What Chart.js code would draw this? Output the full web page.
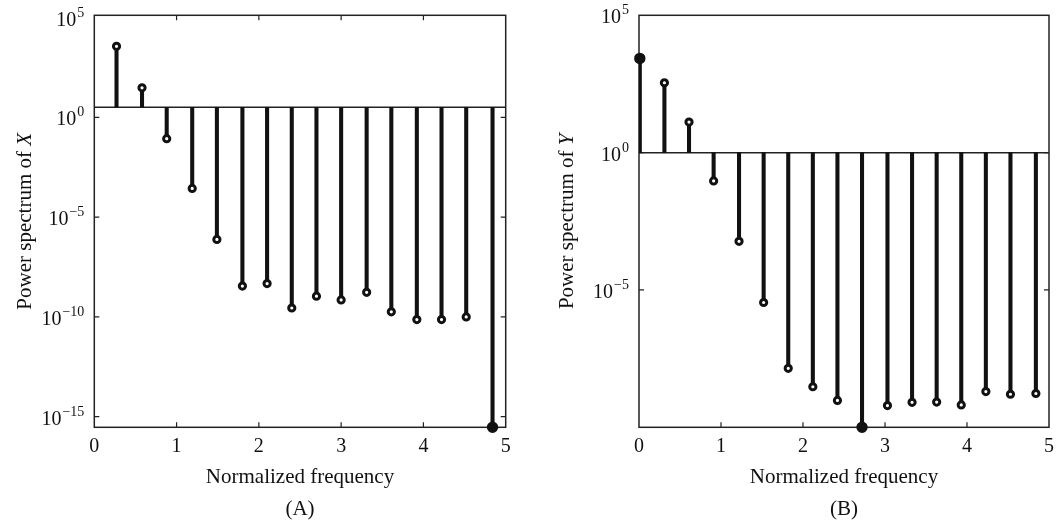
<!DOCTYPE html>
<html>
<head>
<meta charset="utf-8">
<title>Power spectra</title>
<script src="https://cdn.jsdelivr.net/npm/chart.js@4.4.1/dist/chart.umd.min.js"></script>
<style>
    html, body { margin: 0; padding: 0; background: #fff; }
    .panel { position: absolute; top: 0; height: 529px; }
    #panelA { left: 0; width: 530px; }
    #panelB { left: 540px; width: 521px; }
</style>
</head>
<body>
<div class="panel" id="panelA"><canvas id="chartA"></canvas></div>
<div class="panel" id="panelB"><canvas id="chartB"></canvas></div>
<script>
// (A) power spectrum of X
const freqA = [0.27, 0.58, 0.88, 1.19, 1.49, 1.80, 2.10, 2.40, 2.70, 3.00, 3.31, 3.61, 3.92, 4.22, 4.52, 4.84];
const powerA = [3.6e3, 30, 8.5e-2, 2.75e-4, 7.6e-7, 3.5e-9, 4.7e-9, 2.8e-10, 1.1e-9, 7.1e-10, 1.7e-9, 1.8e-10, 7.4e-11, 7.4e-11, 1.0e-10, 2.95e-16];
const filledA = [15];
const baseA = 3.2;
const rangeA = [2.95e-16, 1.29e5];
const decadesA = [5, 0, -5, -10, -15];

// (B) power spectrum of Y
const freqB = [0.01, 0.31, 0.61, 0.91, 1.22, 1.52, 1.82, 2.12, 2.42, 2.72, 3.03, 3.33, 3.63, 3.93, 4.23, 4.53, 4.84];
const powerB = [2.7e3, 3.5e2, 13, 9.3e-2, 5.9e-4, 3.5e-6, 1.4e-8, 3.0e-9, 9.5e-10, 1.0e-10, 6.2e-10, 8.1e-10, 8.3e-10, 6.5e-10, 2.0e-9, 1.6e-9, 1.7e-9];
const filledB = [0, 9];
const baseB = 1;
const rangeB = [1e-10, 1e5];
const decadesB = [5, 0, -5];

const xTicks = [0, 1, 2, 3, 4, 5];
const xTitle = "Normalized frequency";

const SERIF = '"Liberation Serif", "DejaVu Serif", serif';
const INK = "#111";

// frame, inward tick marks, superscript tick labels and titles
const axisDecor = {
    id: "axisDecor",
    beforeDatasetsDraw(chart, args, o) {
        const { ctx, chartArea: a, scales: { x, y } } = chart;
        ctx.save();
        ctx.strokeStyle = "#222";
        ctx.lineWidth = 1.5;
        ctx.strokeRect(a.left, a.top, a.right - a.left, a.bottom - a.top);
        ctx.lineWidth = 1.2;
        ctx.beginPath();
        xTicks.forEach((v) => {
            if (v <= xTicks[0] || v >= xTicks[xTicks.length - 1]) return;
            const px = x.getPixelForValue(v);
            ctx.moveTo(px, a.bottom);
            ctx.lineTo(px, a.bottom - 5);
            if (o.topTicks) {
                ctx.moveTo(px, a.top);
                ctx.lineTo(px, a.top + 5);
            }
        });
        o.decades.forEach((e) => {
            const py = y.getPixelForValue(Math.pow(10, e));
            if (py < a.top + 3 || py > a.bottom - 3) return;
            ctx.moveTo(a.left, py);
            ctx.lineTo(a.left + 5, py);
            ctx.moveTo(a.right, py);
            ctx.lineTo(a.right - 5, py);
        });
        ctx.stroke();
        ctx.restore();
    },
    afterDraw(chart, args, o) {
        const { ctx, chartArea: a, scales: { y } } = chart;
        ctx.save();
        ctx.fillStyle = INK;
        ctx.textBaseline = "alphabetic";

        // y tick labels: 10 with a raised exponent
        o.decades.forEach((e) => {
            const py = y.getPixelForValue(Math.pow(10, e));
            const exp = (e < 0 ? "\u2212" + (-e) : String(e));
            ctx.font = "14px " + SERIF;
            const ew = ctx.measureText(exp).width;
            const right = a.left - 10;
            ctx.textAlign = "right";
            ctx.fillText(exp, right, py - 1);
            ctx.font = "20px " + SERIF;
            ctx.fillText("10", right - ew - 1, py + 8);
        });

        // x title and panel label
        const cx = (a.left + a.right) / 2;
        ctx.textAlign = "center";
        ctx.font = "21px " + SERIF;
        ctx.fillText(xTitle, cx, 483);
        ctx.fillText(o.panel, cx, 515);

        // y title, rotated, with italic variable name
        const cy = (a.top + a.bottom) / 2;
        const part1 = "Power spectrum of ";
        ctx.font = "21px " + SERIF;
        const w1 = ctx.measureText(part1).width;
        ctx.font = "italic 21px " + SERIF;
        const w2 = ctx.measureText(o.variable).width;
        ctx.translate(o.titleX, cy);
        ctx.rotate(-Math.PI / 2);
        ctx.textAlign = "left";
        ctx.font = "21px " + SERIF;
        ctx.fillText(part1, -(w1 + w2) / 2, 0);
        ctx.font = "italic 21px " + SERIF;
        ctx.fillText(o.variable, -(w1 + w2) / 2 + w1, 0);
        ctx.restore();
    }
};

function makePanel(canvasId, freq, power, filled, base, range, decades, opts) {
    const stems = freq.map((f, i) => ({ x: f, y: [base, power[i]] }));
    const heads = freq.map((f, i) => ({ x: f, y: power[i] }));
    const baseLine = [{ x: xTicks[0], y: base }, { x: xTicks[xTicks.length - 1], y: base }];

    return new Chart(document.getElementById(canvasId), {
        type: "bar",
        data: {
            datasets: [
                {
                    type: "line",
                    data: heads,
                    showLine: false,
                    clip: false,
                    pointRadius: freq.map((_, i) => (filled.includes(i) ? 4.2 : 3.1)),
                    pointBorderWidth: 3,
                    pointBorderColor: INK,
                    pointBackgroundColor: freq.map((_, i) => (filled.includes(i) ? INK : "#fff")),
                    order: 0
                },
                {
                    data: stems,
                    barThickness: 3.4,
                    backgroundColor: INK,
                    borderWidth: 0,
                    order: 1
                },
                {
                    type: "line",
                    data: baseLine,
                    borderColor: "#222",
                    borderWidth: 1.5,
                    pointRadius: 0,
                    order: 2
                }
            ]
        },
        options: {
            responsive: true,
            maintainAspectRatio: false,
            animation: false,
            events: [],
            layout: { padding: { top: 15.3, left: 0, right: opts.padRight, bottom: 0 } },
            plugins: {
                legend: { display: false },
                tooltip: { enabled: false },
                axisDecor: {
                    decades: decades,
                    topTicks: opts.topTicks,
                    panel: opts.panel,
                    variable: opts.variable,
                    titleX: opts.titleX
                }
            },
            scales: {
                x: {
                    type: "linear",
                    offset: false,
                    min: xTicks[0],
                    max: xTicks[xTicks.length - 1],
                    afterBuildTicks: (scale) => { scale.ticks = xTicks.map((v) => ({ value: v })); },
                    afterFit: (scale) => { scale.height = 101.7; },
                    grid: { display: false, drawTicks: false },
                    border: { display: false },
                    ticks: {
                        padding: 7,
                        color: INK,
                        font: { family: SERIF, size: 20 },
                        maxRotation: 0,
                        callback: (v) => String(v)
                    }
                },
                y: {
                    type: "logarithmic",
                    min: range[0],
                    max: range[1],
                    afterFit: (scale) => { scale.width = opts.axisWidth; },
                    grid: { display: false, drawTicks: false },
                    border: { display: false },
                    ticks: { display: false }
                }
            }
        },
        plugins: [axisDecor]
    });
}

makePanel("chartA", freqA, powerA, filledA, baseA, rangeA, decadesA,
    { panel: "(A)", variable: "X", padRight: 24.3, axisWidth: 94.3, topTicks: true, titleX: 31 });
makePanel("chartB", freqB, powerB, filledB, baseB, rangeB, decadesB,
    { panel: "(B)", variable: "Y", padRight: 10.3, axisWidth: 99, topTicks: false, titleX: 33 });
</script>
</body>
</html>
